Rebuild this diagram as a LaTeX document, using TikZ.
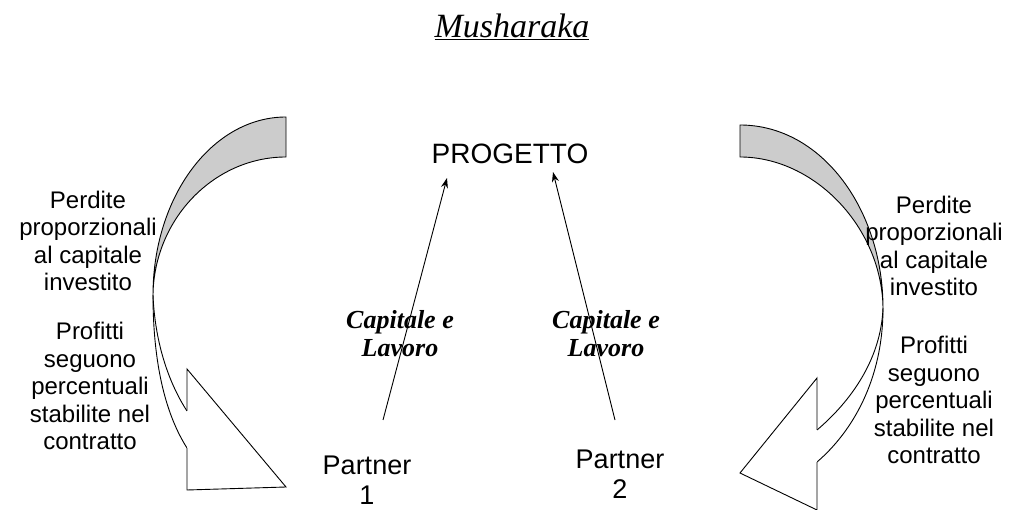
\documentclass[tikz,border=0pt]{standalone}
\usepackage{fontspec}
\setmainfont{Liberation Sans}
\newfontfamily\timesfont{Liberation Serif}
\usetikzlibrary{arrows.meta}

\begin{document}
\begin{tikzpicture}[
        x=1pt, y=-1pt,
        every node/.style={font=\fontsize{24}{27.5}\selectfont, inner sep=0pt},
        note/.style={align=center},
        label/.style={font=\fontsize{28}{30}\selectfont},
        partner/.style={align=center, font=\fontsize{27}{30}\selectfont},
        contrib/.style={align=center, font=\timesfont\bfseries\itshape\fontsize{26}{28}\selectfont},
        arrow/.style={->, line width=0.9pt, draw=black, >={Stealth[length=10pt, width=7pt]}},
        band/.style={draw=black, line width=0.9pt},
        backside/.style={fill=black!20, draw=black, line width=0.9pt}
        ]

        \useasboundingbox (0,0) rectangle (1031,510);

        % Left curved arrow
        \filldraw[backside] (286,117) .. controls (212,117) and (153,197) .. (153,295)
            .. controls (154,219) and (214,157) .. (286,157) -- cycle;
        \draw[band] (153,295) .. controls (153,365) and (166,415) .. (187,448);
        \draw[band] (153,295) .. controls (155,345) and (170,385) .. (187,411);
        \draw[band, fill=white] (187,411) -- (187,369) -- (286,487) -- (187,490) -- (187,448);

        % Right curved arrow
        \filldraw[backside] (740,125) .. controls (822,125) and (883,210) .. (883,308)
            .. controls (882,228) and (815,157) .. (740,157) -- cycle;
        \draw[band] (883,308) .. controls (883,380) and (852,432) .. (817,462);
        \draw[band] (883,308) .. controls (881,360) and (850,402) .. (817,430);
        \draw[band, fill=white] (817,430) -- (817,378) -- (740,473) -- (817,510) -- (817,462);

        % Title
        \node (title) at (512,27) {\timesfont\itshape\fontsize{34}{36}\selectfont\underline{Musharaka}};

        % Project and partners
        \node[label] (prog) at (510,154) {PROGETTO};
        \node[partner] (p1) at (367,480) {Partner\\1};
        \node[partner] (p2) at (620,474) {Partner\\2};

        % Side notes
        \node[note] (loss1) at (88,241) {Perdite\\proporzionali\\al capitale\\investito};
        \node[note] (gain1) at (90,386) {Profitti\\seguono\\percentuali\\stabilite nel\\contratto};
        \node[note] (loss2) at (934,246) {Perdite\\proporzionali\\al capitale\\investito};
        \node[note] (gain2) at (934,400) {Profitti\\seguono\\percentuali\\stabilite nel\\contratto};

        % Contributions
        \node[contrib] (c1) at (400,334) {Capitale e\\Lavoro};
        \node[contrib] (c2) at (606,334) {Capitale e\\Lavoro};

        % Connection lines
        \coordinate (f1) at (383,420);
        \coordinate (t1) at (447,178);
        \coordinate (f2) at (615,420);
        \coordinate (t2) at (553,172);
        \draw[arrow] (f1) -- (t1);
        \draw[arrow] (f2) -- (t2);

\end{tikzpicture}
\end{document}
